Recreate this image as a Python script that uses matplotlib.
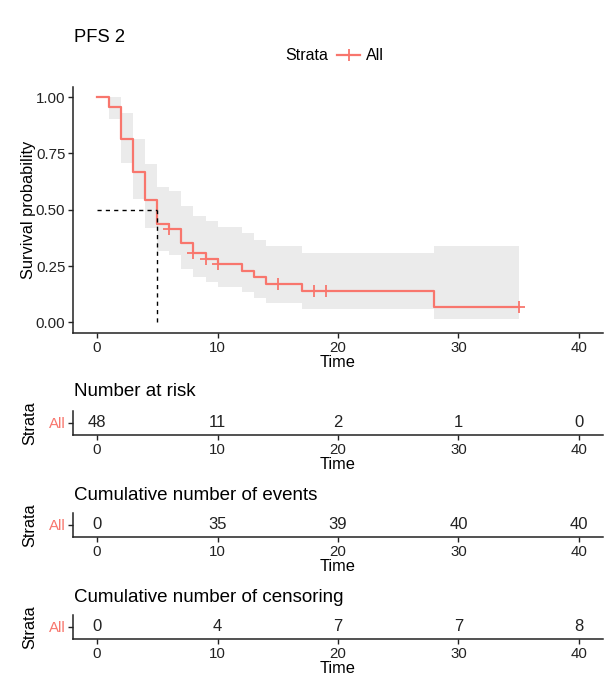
import matplotlib
matplotlib.use("Agg")
import matplotlib.pyplot as plt
from matplotlib.lines import Line2D

plt.rcParams['font.family'] = ['Liberation Sans', 'DejaVu Sans']

# ---- data ----
times = [0, 1, 2, 3, 4, 5, 6, 7, 8, 9, 10, 12, 13, 14, 17, 28, 35]
surv = [1.0, 0.9583, 0.8125, 0.6667, 0.5417, 0.4375, 0.4167, 0.3509, 0.3070,
        0.2834, 0.2576, 0.2290, 0.2004, 0.1718, 0.1374, 0.0687, 0.0687]
upper = [1.0, 1.0, 0.931, 0.814, 0.702, 0.603, 0.582, 0.517, 0.472, 0.448,
         0.422, 0.395, 0.367, 0.338, 0.308, 0.341, 0.341]
lower = [1.0, 0.904, 0.709, 0.546, 0.418, 0.318, 0.298, 0.238, 0.200, 0.179,
         0.157, 0.133, 0.110, 0.087, 0.061, 0.014, 0.014]
censor_t = [6, 8, 9, 10, 15, 18, 19, 35]
censor_s = [0.4167, 0.3070, 0.2834, 0.2576, 0.1718, 0.1374, 0.1374, 0.0687]
median_t = 5

table_times = [0, 10, 20, 30, 40]
at_risk = [48, 11, 2, 1, 0]
cum_events = [0, 35, 39, 40, 40]
cum_censor = [0, 4, 7, 7, 8]
table_titles = ["Number at risk", "Cumulative number of events",
                "Cumulative number of censoring"]
strata_label = "All"
xticks = [0, 10, 20, 30, 40]
yticks = [0.0, 0.25, 0.5, 0.75, 1.0]

RED = "#F8766D"
BAND = "#EBEBEB"
INK = "#222222"
W, H = 608, 677

fig = plt.figure(figsize=(W / 100, H / 100), dpi=100)


def rect(l, t, r, b):
    return [l / W, 1 - b / H, (r - l) / W, (b - t) / H]


def style(ax):
    for s in ("top", "right"):
        ax.spines[s].set_visible(False)
    for s in ("left", "bottom"):
        ax.spines[s].set_linewidth(1.1)
        ax.spines[s].set_color(INK)
    ax.tick_params(length=3.5, width=1.0, color=INK, labelsize=10.8,
                   labelcolor=INK, pad=2)


# ---- main KM plot ----
ax = fig.add_axes(rect(73, 87, 603, 333))
style(ax)
ax.fill_between(times, lower, upper, step="post", color=BAND, lw=0)
ax.step(times, surv, where="post", color=RED, lw=1.6)
ax.plot(censor_t, censor_s, ls="none", marker="+", ms=8, mew=1.3, color=RED)
ax.plot([0, median_t], [0.5, 0.5], ls=(0, (3, 3)), color="black", lw=1.0)
ax.plot([median_t, median_t], [0, 0.5], ls=(0, (3, 3)), color="black", lw=1.0)
ax.set_xlim(-2, 42)
ax.set_ylim(-0.047, 1.045)
ax.set_xticks(xticks)
ax.set_yticks(yticks)
ax.set_yticklabels([f"{v:.2f}" for v in yticks])
ax.set_xlabel("Time", fontsize=11.8, labelpad=0)
ax.set_ylabel("Survival probability", fontsize=11.8, labelpad=0)

fig.text(74 / W, 1 - 38 / H, "PFS 2", fontsize=13.2, va="center", ha="left")
fig.text(328 / W, 1 - 56 / H, "Strata", fontsize=11.5, va="center", ha="right")
fig.legend(handles=[Line2D([], [], color=RED, lw=1.6, marker="+", ms=8, mew=1.3)],
           labels=[strata_label], loc="center left",
           bbox_to_anchor=(337 / W, 1 - 56 / H), frameon=False,
           handlelength=1.45, handletextpad=0.35, fontsize=11.5,
           borderaxespad=0, borderpad=0)

# ---- tables ----
tables = [at_risk, cum_events, cum_censor]
tops = [411, 513, 615]
title_y = [392, 496, 598]
for vals, top, title, ty in zip(tables, tops, table_titles, title_y):
    tax = fig.add_axes(rect(73, top, 603, top + 24))
    style(tax)
    tax.set_xlim(-2, 42)
    tax.set_ylim(-0.5, 0.5)
    tax.set_xticks(xticks)
    tax.set_yticks([0])
    tax.set_yticklabels([strata_label])
    tax.get_yticklabels()[0].set_color(RED)
    for t, v in zip(table_times, vals):
        tax.text(t, 0.03, str(v), ha="center", va="center", fontsize=12,
                 color=INK)
    tax.set_xlabel("Time", fontsize=11.8, labelpad=0)
    tax.set_ylabel("Strata", fontsize=11.8, labelpad=8)
    fig.text(74 / W, 1 - ty / H, title, fontsize=13.5, va="center", ha="left")

fig.savefig("out.png", dpi=100)
